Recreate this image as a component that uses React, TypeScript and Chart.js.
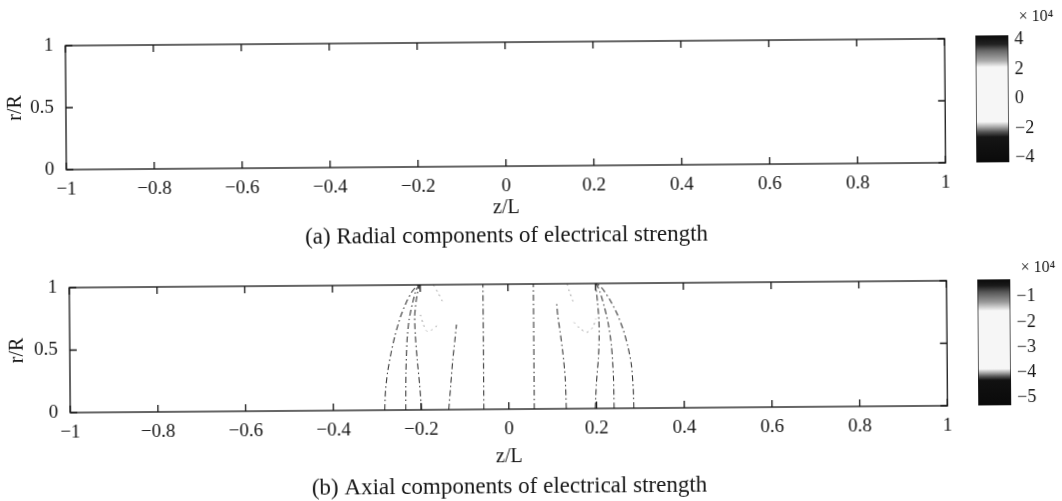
import React, { useEffect, useRef } from "react";
import { Chart, registerables } from "chart.js";

Chart.register(...registerables);

// ---------------- data ----------------
const zTicks = [-1, -0.8, -0.6, -0.4, -0.2, 0, 0.2, 0.4, 0.6, 0.8, 1];
const rTicks = [0, 0.5, 1];
const radialBarTicks = [-4, -2, 0, 2, 4];
const axialBarTicks = [-5, -4, -3, -2, -1];
const radialBarRange = [-4.3, 4.3];
const axialBarRange = [-5.3, -0.3];

const zLabel = "z/L";
const rLabel = "r/R";
const scaleLabel = "× 10⁴";
const captionA = "(a) Radial components of electrical strength";
const captionB = "(b) Axial components of electrical strength";

// contour lines of the axial component, points as [z/L, r/R]
const axialOuterLeft = [[-0.283, 0], [-0.281, 0.15], [-0.276, 0.3], [-0.268, 0.45], [-0.258, 0.6], [-0.245, 0.75], [-0.232, 0.86], [-0.218, 0.95], [-0.205, 1]];
const axialSecondLeft = [[-0.235, 0], [-0.234, 0.3], [-0.231, 0.55], [-0.226, 0.72], [-0.218, 0.85], [-0.21, 0.95], [-0.203, 1]];
const axialThirdLeft = [[-0.199, 0], [-0.203, 0.2], [-0.208, 0.4], [-0.212, 0.6], [-0.213, 0.75], [-0.209, 0.88], [-0.202, 1]];
const axialInnerLeft = [[-0.137, 0], [-0.132, 0.2], [-0.127, 0.4], [-0.122, 0.55], [-0.118, 0.68]];
const axialInnerTopLeft = [[-0.15, 0.87], [-0.16, 0.94], [-0.17, 1]];
const axialLoopLeft = [[-0.2, 0.76], [-0.193, 0.68], [-0.186, 0.63], [-0.174, 0.64], [-0.16, 0.68]];
const axialCentreLeft = [[-0.057, 0], [-0.057, 1]];
const axialCentreRight = [[0.058, 0], [0.058, 1]];
const axialLoopRight = [[0.15, 0.69], [0.164, 0.64], [0.179, 0.61], [0.193, 0.65], [0.2, 0.72]];
const axialInnerRight = [[0.131, 0], [0.129, 0.25], [0.124, 0.45], [0.118, 0.62], [0.113, 0.75], [0.111, 0.84]];
const axialInnerTopRight = [[0.148, 0.86], [0.14, 0.94], [0.135, 1]];
const axialThirdRight = [[0.197, 0], [0.2, 0.2], [0.205, 0.4], [0.207, 0.55], [0.207, 0.7], [0.204, 0.85], [0.2, 1]];
const axialSecondRight = [[0.24, 0], [0.239, 0.25], [0.235, 0.5], [0.228, 0.68], [0.219, 0.82], [0.21, 0.93], [0.202, 1]];
const axialOuterRight = [[0.285, 0], [0.284, 0.15], [0.28, 0.35], [0.272, 0.5], [0.262, 0.63], [0.248, 0.76], [0.232, 0.87], [0.215, 0.96], [0.203, 1]];

// main (dash-dot) contour lines and faint (dotted) ones
const axialContours = [
  axialOuterLeft, axialSecondLeft, axialThirdLeft, axialInnerLeft, axialCentreLeft,
  axialCentreRight, axialInnerRight, axialThirdRight, axialSecondRight, axialOuterRight,
];
const axialFaintContours = [axialLoopLeft, axialInnerTopLeft, axialLoopRight, axialInnerTopRight];
// the radial-component map shows no visible contour lines
const radialContours: number[][][] = [];
const radialFaintContours: number[][][] = [];

// grey colour maps of the two colour bars (top -> bottom)
const radialStops: [number, string][] = [[0, "#0a0a0a"], [0.07, "#222"], [0.12, "#666"], [0.2, "#aaa"], [0.25, "#f6f6f6"], [0.68, "#f6f6f6"], [0.72, "#aaa"], [0.76, "#555"], [0.8, "#151515"], [1, "#0a0a0a"]];
const axialStops: [number, string][] = [[0, "#0a0a0a"], [0.05, "#1a1a1a"], [0.1, "#555"], [0.18, "#999"], [0.25, "#f6f6f6"], [0.71, "#f6f6f6"], [0.74, "#aaa"], [0.77, "#555"], [0.8, "#111"], [1, "#0a0a0a"]];

// ---------------- styling ----------------
const FONT = '"Liberation Serif", "DejaVu Serif", "Times New Roman", serif';
const INK = "#151515";

const fmt = (v: number) => {
  const r = Math.round(v * 10) / 10;
  if (r === 0) return "0";
  return (r < 0 ? "\u2212" : "") + String(Math.abs(r));
};

const framePlugin = {
  id: "frame",
  afterDraw(chart: any) {
    const { ctx, chartArea: a, scales } = chart;
    const L = 7;
    ctx.save();
    ctx.strokeStyle = INK;
    ctx.lineWidth = 1.3;
    ctx.strokeRect(a.left, a.top, a.right - a.left, a.bottom - a.top);
    ctx.beginPath();
    scales.x.ticks.forEach((t: any) => {
      const px = scales.x.getPixelForValue(t.value);
      ctx.moveTo(px, a.bottom);
      ctx.lineTo(px, a.bottom - L);
      ctx.moveTo(px, a.top);
      ctx.lineTo(px, a.top + L);
    });
    scales.y.ticks.forEach((t: any) => {
      const py = scales.y.getPixelForValue(t.value);
      ctx.moveTo(a.left, py);
      ctx.lineTo(a.left + L, py);
      ctx.moveTo(a.right, py);
      ctx.lineTo(a.right - L, py);
    });
    ctx.stroke();
    ctx.restore();
  },
};

type MainLayout = {
  padTop: number;
  padRight: number;
  yWidth: number;
  axisHeight: number;
  capPadBottom: number;
  xTitlePadBottom: number;
};

function mainConfig(contours: number[][][], faint: number[][][], caption: string, L: MainLayout): any {
  const line = (c: number[][], color: string, width: number, dash: number[]) => ({
    data: c.map(([z, r]) => ({ x: z, y: r })),
    borderColor: color,
    borderWidth: width,
    borderDash: dash,
    pointRadius: 0,
    tension: 0.25,
    fill: false,
  });
  return {
    type: "line",
    data: {
      datasets: [
        ...contours.map((c) => line(c, "#3a3a3a", 1.1, [6, 3, 1.5, 3])),
        ...faint.map((c) => line(c, "#8a8a8a", 1, [1.5, 4])),
      ],
    },
    options: {
      responsive: false,
      animation: false,
      events: [],
      layout: { padding: { top: L.padTop, right: L.padRight, left: 0, bottom: 0 } },
      scales: {
        x: {
          type: "linear",
          min: -1,
          max: 1,
          afterBuildTicks: (s: any) => {
            s.ticks = zTicks.map((v) => ({ value: v }));
          },
          afterFit: (s: any) => {
            s.height = L.axisHeight;
          },
          grid: { display: false, drawTicks: false },
          border: { display: false },
          ticks: {
            autoSkip: false,
            maxRotation: 0,
            padding: 9,
            color: INK,
            font: { family: FONT, size: 19 },
            callback: (v: number) => fmt(v),
          },
          title: {
            display: true,
            text: zLabel,
            color: INK,
            font: { family: FONT, size: 20 },
            padding: { top: 0, bottom: L.xTitlePadBottom },
          },
        },
        y: {
          type: "linear",
          min: 0,
          max: 1,
          afterBuildTicks: (s: any) => {
            s.ticks = rTicks.map((v) => ({ value: v }));
          },
          afterFit: (s: any) => {
            s.width = L.yWidth;
          },
          grid: { display: false, drawTicks: false },
          border: { display: false },
          ticks: {
            padding: 12,
            color: INK,
            font: { family: FONT, size: 19 },
            callback: (v: number) => fmt(v),
          },
          title: {
            display: true,
            text: rLabel,
            color: INK,
            font: { family: FONT, size: 20 },
            padding: { top: 5, bottom: 0 },
          },
        },
      },
      plugins: {
        legend: { display: false },
        tooltip: { enabled: false },
        title: {
          display: true,
          position: "bottom",
          fullSize: false,
          text: caption,
          color: INK,
          font: { family: FONT, size: 23, weight: "normal" },
          padding: { top: 0, bottom: L.capPadBottom },
        },
      },
    },
    plugins: [framePlugin],
  };
}

type BarLayout = {
  padLeft: number;
  padRight: number;
  padBottom: number;
  axisWidth: number;
  titlePadTop: number;
  titlePadBottom: number;
};

function barConfig(range: number[], ticks: number[], stops: [number, string][], L: BarLayout): any {
  return {
    type: "bar",
    data: {
      labels: [""],
      datasets: [
        {
          data: [[range[0], range[1]]],
          backgroundColor: (c: any) => {
            const a = c.chart.chartArea;
            if (!a) return "#888";
            const g = c.chart.ctx.createLinearGradient(0, a.top, 0, a.bottom);
            stops.forEach(([o, col]) => g.addColorStop(o, col));
            return g;
          },
          borderColor: INK,
          borderWidth: 1,
          borderSkipped: false,
          barPercentage: 1,
          categoryPercentage: 1,
        },
      ],
    },
    options: {
      responsive: false,
      animation: false,
      events: [],
      layout: { padding: { left: L.padLeft, right: L.padRight, top: 0, bottom: L.padBottom } },
      scales: {
        x: { display: false },
        y: {
          position: "right",
          min: range[0],
          max: range[1],
          afterBuildTicks: (s: any) => {
            s.ticks = ticks.map((v) => ({ value: v }));
          },
          afterFit: (s: any) => {
            s.width = L.axisWidth;
          },
          grid: { display: false, drawTicks: false },
          border: { display: false },
          ticks: {
            padding: 6,
            color: INK,
            font: { family: FONT, size: 18 },
            callback: (v: number) => fmt(v),
          },
        },
      },
      plugins: {
        legend: { display: false },
        tooltip: { enabled: false },
        title: {
          display: true,
          position: "top",
          align: "end",
          text: scaleLabel,
          color: INK,
          font: { family: FONT, size: 16, weight: "normal" },
          padding: { top: L.titlePadTop, bottom: L.titlePadBottom },
        },
      },
    },
  };
}

function ChartCanvas(props: { make: () => any; left: number; top: number; width: number; height: number }) {
  const ref = useRef<HTMLCanvasElement>(null);
  useEffect(() => {
    const chart = new Chart(ref.current as HTMLCanvasElement, props.make());
    return () => chart.destroy();
  }, []);
  return (
    <canvas
      ref={ref}
      width={props.width}
      height={props.height}
      style={{ position: "absolute", left: props.left, top: props.top, width: props.width, height: props.height }}
    />
  );
}

export default function App() {
  return (
    <div
      style={{
        position: "absolute",
        left: 0,
        top: 0,
        width: 1062,
        height: 501,
        background: "#fff",
        overflow: "hidden",
        transform: "rotate(-0.45deg)",
        transformOrigin: "531px 250px",
      }}
    >
      <ChartCanvas
        left={0}
        top={0}
        width={960}
        height={256}
        make={() =>
          mainConfig(radialContours, radialFaintContours, captionA, {
            padTop: 42,
            padRight: 9,
            yWidth: 67,
            axisHeight: 56.4,
            capPadBottom: 6,
            xTitlePadBottom: 2.4,
          })
        }
      />
      <ChartCanvas
        left={0}
        top={250}
        width={960}
        height={251}
        make={() =>
          mainConfig(axialContours, axialFaintContours, captionB, {
            padTop: 34,
            padRight: 7,
            yWidth: 69,
            axisHeight: 64.2,
            capPadBottom: 0.2,
            xTitlePadBottom: 4.2,
          })
        }
      />
      <ChartCanvas
        left={960}
        top={0}
        width={102}
        height={250}
        make={() =>
          barConfig(radialBarRange, radialBarTicks, radialStops, {
            padLeft: 17,
            padRight: 7,
            padBottom: 84,
            axisWidth: 45,
            titlePadTop: 11.4,
            titlePadBottom: 8.4,
          })
        }
      />
      <ChartCanvas
        left={960}
        top={250}
        width={102}
        height={251}
        make={() =>
          barConfig(axialBarRange, axialBarTicks, axialStops, {
            padLeft: 17,
            padRight: 7,
            padBottom: 92,
            axisWidth: 45,
            titlePadTop: 12.4,
            titlePadBottom: 1.4,
          })
        }
      />
    </div>
  );
}
